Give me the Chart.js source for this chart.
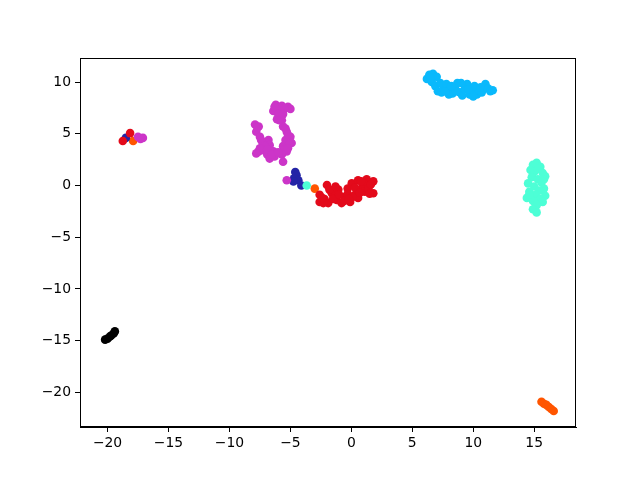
<!DOCTYPE html>
<html>
<head>
<meta charset="utf-8">
<script src="https://cdn.jsdelivr.net/npm/chart.js@4/dist/chart.umd.min.js"></script>
<style>
  html, body { margin: 0; padding: 0; background: #fff; }
  canvas { display: block; }
</style>
</head>
<body>
<canvas id="chart" width="640" height="480"></canvas>
<script>
// cluster points, [x, y]
const redPts = [
    [-2.6, -1.6], [-2.6, -0.9], [-2.0, 0.05], [-1.9, -1.7], [-1.6, -0.75], [-1.2, -1.4],
    [-1.07, -0.4], [-0.8, -1.7], [-0.5, -1.1], [-0.1, -1.6], [0.03, 0.2], [0.3, -0.9],
    [0.55, 0.5], [0.55, -1.2], [1.1, -0.6], [1.26, 0.6], [1.8, 0.4], [1.8, -0.75],
    [-2.2, -1.3], [-0.3, -0.3], [0.9, -0.2], [-2.3, -1.7], [-1.5, -1.3], [-1.8, -0.4],
    [-1.0, -0.9], [-0.6, -1.5], [-0.3, -0.8], [0.1, -1.1], [0.3, -0.2], [0.7, -0.7],
    [1.0, 0.2], [1.4, -0.3], [1.6, 0.1], [1.5, -0.8], [0.8, 0.4], [-0.2, -1.3],
    [-1.3, -0.1], [-2.4, -1.2],
    [-18.75, 4.3], [-18.15, 5.06]
];
const magentaPts = [
    [-6.2, 7.8], [-5.7, 7.7], [-5.2, 7.6], [-5.0, 7.4], [-6.4, 7.2], [-6.1, 6.4],
    [-5.7, 6.3], [-5.6, 5.7], [-5.3, 5.2], [-5.0, 4.7], [-4.9, 4.1], [-5.4, 4.4],
    [-5.6, 3.8], [-5.3, 3.3], [-5.7, 3.0], [-5.6, 2.3],
    [-7.9, 5.9], [-7.6, 5.7], [-7.8, 5.2], [-7.5, 4.7], [-7.3, 4.2], [-6.8, 4.4],
    [-6.7, 3.9], [-7.6, 3.3], [-7.2, 3.4], [-6.9, 3.0], [-6.7, 2.6], [-6.3, 2.8],
    [-6.4, 3.3], [-5.3, 0.5],
    [-5.9, 7.5], [-5.5, 7.4], [-6.3, 7.6], [-6.0, 6.9], [-5.9, 6.3], [-5.6, 6.9],
    [-5.4, 5.5], [-5.2, 4.9], [-5.1, 4.0], [-5.5, 3.5], [-5.2, 3.6], [-7.7, 5.6],
    [-7.4, 4.4], [-7.1, 3.8], [-7.5, 3.6], [-6.9, 3.5], [-6.5, 3.0], [-6.0, 3.2],
    [-7.8, 3.1],
    [-17.5, 4.7], [-17.1, 4.6], [-17.3, 4.5]
];
const aquaPts = [
    [14.9, 2.0], [15.2, 2.2], [15.5, 1.8], [14.7, 1.5], [15.0, 1.3], [15.7, 1.2],
    [15.9, 0.9], [14.8, 0.8], [15.3, 0.6], [15.6, 0.3], [14.5, 0.2], [15.0, -0.1],
    [15.8, -0.3], [15.4, -0.5], [14.6, -0.6], [15.1, -0.9], [15.9, -1.0], [14.4, -1.2],
    [15.5, -1.3], [14.9, -1.5], [15.7, -1.6], [15.2, -1.9], [14.9, -2.3], [15.2, -2.6],
    [14.6, -0.9], [15.8, 0.6], [15.3, 1.6],
    [-3.66, 0.0]
];
const skyPts = [
    [6.2, 10.3], [6.4, 10.7], [6.7, 10.8], [7.0, 10.5], [6.6, 10.0], [6.9, 9.6],
    [7.1, 9.1], [7.4, 9.0], [7.6, 9.4], [7.3, 9.9], [7.8, 9.8], [8.1, 9.3],
    [8.3, 8.9], [8.5, 9.5], [8.7, 9.9], [8.9, 9.0], [9.1, 8.7], [9.3, 9.3],
    [9.5, 9.8], [9.7, 8.8], [9.9, 9.2], [10.1, 9.6], [10.3, 8.8], [10.5, 9.2],
    [10.7, 9.0], [11.0, 9.8], [11.2, 9.4], [11.4, 9.1], [11.6, 9.2], [10.0, 8.6],
    [8.0, 8.8], [9.0, 9.9], [6.5, 10.4], [7.7, 9.1], [8.6, 9.1], [9.6, 9.3],
    [10.6, 9.5], [8.2, 9.6]
];
const blackPts = [
    [-20.2, -14.9], [-20.0, -14.8], [-19.8, -14.6], [-19.7, -14.5], [-19.5, -14.3], [-19.4, -14.1]
];
const bluePts = [
    [-4.6, 1.3], [-4.5, 1.0], [-4.7, 0.7], [-4.35, 0.5], [-4.1, 0.0], [-4.75, 0.4],
    [-18.5, 4.6]
];
const orangePts = [
    [15.6, -20.9], [15.8, -21.1], [16.0, -21.2], [16.2, -21.4], [16.4, -21.6], [16.6, -21.8],
    [-3.0, -0.3], [-17.9, 4.3]
];

const xTicks = [-20, -15, -10, -5, 0, 5, 10, 15];
const yTicks = [-20, -15, -10, -5, 0, 5, 10];

const groups = [
    { pts: redPts, color: '#e30a1b' },
    { pts: magentaPts, color: '#cc35c8' },
    { pts: aquaPts, color: '#4dffd6' },
    { pts: skyPts, color: '#0ab9fc' },
    { pts: blackPts, color: '#000000' },
    { pts: bluePts, color: '#2424a6' },
    { pts: orangePts, color: '#ff5500' }
];

const tickFont = { family: "'DejaVu Sans', sans-serif", size: 13.9 };
const minus = v => String(v).replace('-', '\u2212');

// box round the plot area (matplotlib spines)
const frame = {
    id: 'frame',
    afterDraw(chart) {
        const { ctx, chartArea: a } = chart;
        ctx.save();
        ctx.strokeStyle = '#000';
        ctx.lineWidth = 1;
        ctx.strokeRect(a.left + 0.5, a.top + 0.5, a.right - a.left - 1, a.bottom - a.top - 1);
        ctx.restore();
    }
};

new Chart(document.getElementById('chart'), {
    type: 'scatter',
    data: {
        datasets: groups.map(g => ({
            data: g.pts.map(p => ({ x: p[0], y: p[1] })),
            backgroundColor: g.color,
            borderWidth: 0,
            pointRadius: 4.3,
            pointHoverRadius: 4.3
        }))
    },
    options: {
        responsive: false,
        animation: false,
        events: [],
        layout: { padding: { top: 58, right: 64, left: 0, bottom: 0 } },
        plugins: { legend: { display: false }, tooltip: { enabled: false } },
        scales: {
            x: {
                type: 'linear',
                min: -22.26,
                max: 18.43,
                afterBuildTicks: s => { s.ticks = xTicks.map(v => ({ value: v })); },
                afterFit: s => { s.height = 53; },
                grid: { drawOnChartArea: false, drawTicks: true, tickLength: 5, color: '#000' },
                border: { display: true, color: '#000' },
                ticks: { color: '#000', font: tickFont, padding: 3, maxRotation: 0, callback: minus }
            },
            y: {
                type: 'linear',
                min: -23.34,
                max: 12.32,
                afterBuildTicks: s => { s.ticks = yTicks.map(v => ({ value: v })); },
                afterFit: s => { s.width = 80; },
                grid: { drawOnChartArea: false, drawTicks: true, tickLength: 5, color: '#000' },
                border: { display: true, color: '#000' },
                ticks: { color: '#000', font: tickFont, padding: 4, callback: minus }
            }
        }
    },
    plugins: [frame]
});
</script>
</body>
</html>
